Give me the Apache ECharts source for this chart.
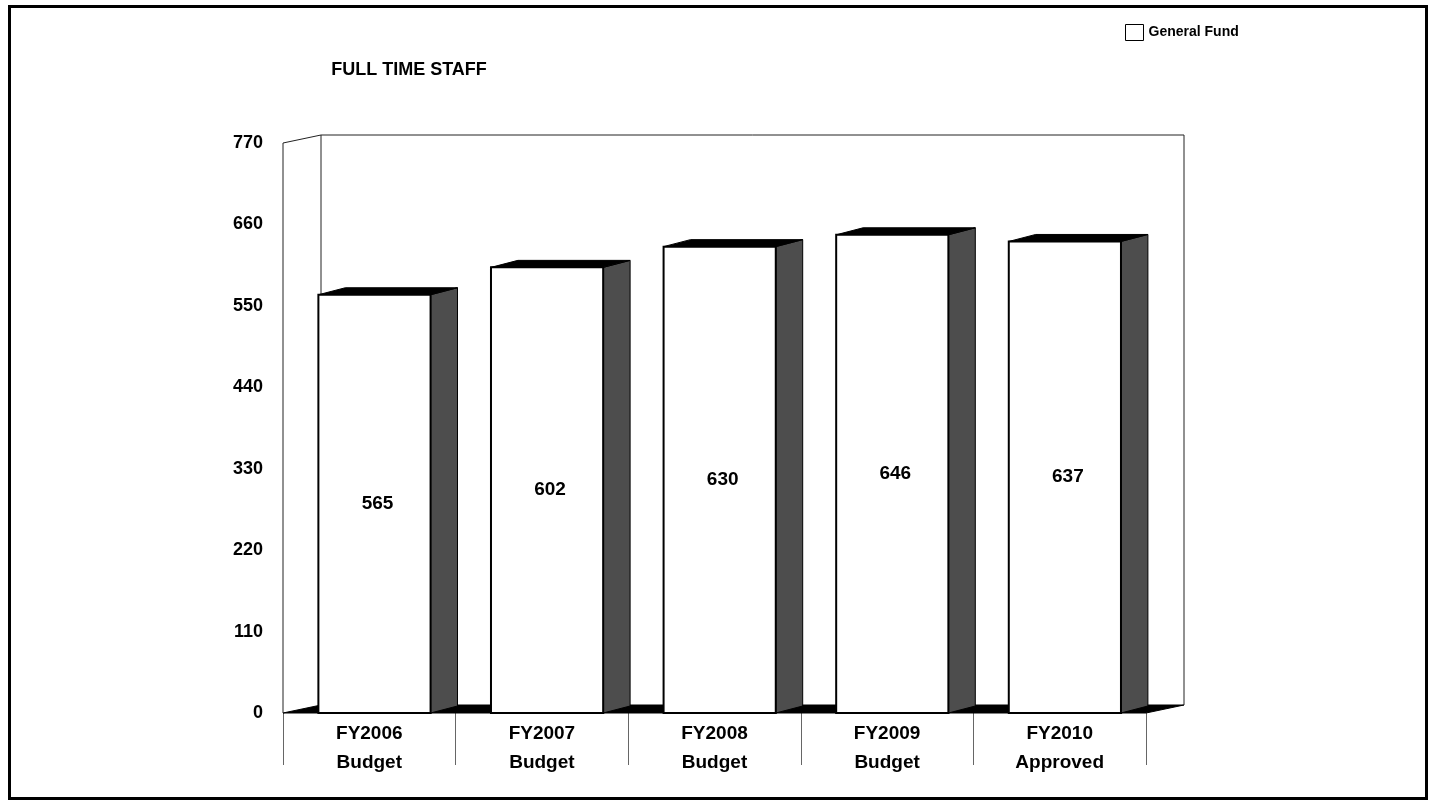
<!DOCTYPE html>
<html>
<head>
<meta charset="utf-8">
<script src="https://cdn.jsdelivr.net/npm/echarts@6/dist/echarts.min.js"></script>
<style>
html,body{margin:0;padding:0;background:#fff;}
#chart{width:1429px;height:801px;}
</style>
</head>
<body>
<div id="chart"></div>
<script>
var categories = ['FY2006\nBudget', 'FY2007\nBudget', 'FY2008\nBudget', 'FY2009\nBudget', 'FY2010\nApproved'];
var generalFund = [565, 602, 630, 646, 637];
var yTicks = [0, 110, 220, 330, 440, 550, 660, 770];
var seriesName = 'General Fund';
var chartTitle = 'FULL TIME STAFF';

var FONT = '"Liberation Sans", Arial, sans-serif';
var chart = echarts.init(document.getElementById('chart'), null, {renderer: 'canvas'});

function renderWalls(params, api) {
  var bw = api.size([1, 0])[0];
  var left = api.coord([0, 0])[0] - bw / 2;
  var right = api.coord([categories.length - 1, 0])[0] + bw / 2;
  var y0 = api.coord([0, yTicks[0]])[1];
  var yTop = api.coord([0, yTicks[yTicks.length - 1]])[1];
  var dx = 38, dy = -8;
  var ls = {stroke: '#222', lineWidth: 1, fill: null};
  return {
    type: 'group',
    children: [
      {type: 'polygon', shape: {points: [[left, y0], [left + dx, y0 + dy], [right + dx, y0 + dy], [right, y0]]}, style: {fill: '#000', stroke: '#000'}},
      {type: 'polyline', shape: {points: [[left, y0], [left, yTop], [left + dx, yTop + dy], [right + dx, yTop + dy], [right + dx, y0 + dy]]}, style: ls},
      {type: 'line', shape: {x1: left + dx, y1: yTop + dy, x2: left + dx, y2: y0 + dy}, style: ls}
    ]
  };
}

function renderBar(params, api) {
  var idx = api.value(0);
  var val = api.value(1);
  var bw = api.size([1, 0])[0];
  var c = api.coord([idx, val]);
  var b = api.coord([idx, 0]);
  var bandLeft = c[0] - bw / 2;
  var fl = bandLeft + bw * 0.205;
  var fw = bw * 0.65;
  var fr = fl + fw;
  var top = c[1];
  var base = b[1];
  var dx = bw * 0.156, dy = -7;
  return {
    type: 'group',
    children: [
      {type: 'polygon', shape: {points: [[fr, top], [fr + dx, top + dy], [fr + dx, base + dy], [fr, base]]}, style: {fill: '#4d4d4d', stroke: '#000', lineWidth: 1}},
      {type: 'polygon', shape: {points: [[fl, top], [fl + dx, top + dy], [fr + dx, top + dy], [fr, top]]}, style: {fill: '#000', stroke: '#000', lineWidth: 1}},
      {type: 'rect', shape: {x: fl, y: top, width: fw, height: base - top}, style: {fill: '#fff', stroke: '#000', lineWidth: 2}},
      {type: 'text', style: {text: String(val), x: fl + fw / 2 + 3, y: (top + base) / 2, textAlign: 'center', textVerticalAlign: 'middle', font: 'bold 19px ' + FONT, fill: '#000'}}
    ]
  };
}

chart.setOption({
  animation: false,
  backgroundColor: '#fff',
  grid: {left: 283, right: 283, top: 143, bottom: 88, containLabel: false},
  legend: {
    show: true,
    left: 1120, top: 19,
    itemWidth: 18, itemHeight: 16, itemGap: 12,
    icon: 'rect',
    data: [{name: seriesName, icon: 'rect', itemStyle: {color: '#fff', borderColor: '#000', borderWidth: 1}}],
    textStyle: {fontFamily: FONT, fontWeight: 'bold', fontSize: 14, color: '#000'}
  },
  xAxis: {
    type: 'category',
    data: categories,
    boundaryGap: true,
    axisLine: {show: false},
    axisTick: {show: true, length: 52, alignWithLabel: false, lineStyle: {color: '#666', width: 1}},
    axisLabel: {margin: 6, fontFamily: FONT, fontWeight: 'bold', fontSize: 19, lineHeight: 29, color: '#000', interval: 0}
  },
  yAxis: {
    type: 'value',
    min: yTicks[0], max: yTicks[yTicks.length - 1], interval: yTicks[1] - yTicks[0],
    axisLine: {show: false},
    axisTick: {show: false},
    splitLine: {show: false},
    axisLabel: {margin: 20, fontFamily: FONT, fontWeight: 'bold', fontSize: 18, color: '#000'}
  },
  graphic: [
    {type: 'rect', left: 7, top: 4, shape: {width: 1417, height: 792}, style: {fill: null, stroke: '#000', lineWidth: 3}, z: 100},
    {type: 'text', x: 409, y: 70, style: {text: chartTitle, textAlign: 'center', textVerticalAlign: 'middle', font: 'bold 18px ' + FONT, fill: '#000'}}
  ],
  series: [
    {type: 'custom', name: 'walls', renderItem: renderWalls, data: [[0, 0]], silent: true, z: 1, legendHoverLink: false},
    {type: 'custom', name: seriesName, renderItem: renderBar, data: generalFund.map(function (v, i) { return [i, v]; }), itemStyle: {color: '#fff', borderColor: '#000'}, z: 2}
  ]
});
</script>
</body>
</html>
